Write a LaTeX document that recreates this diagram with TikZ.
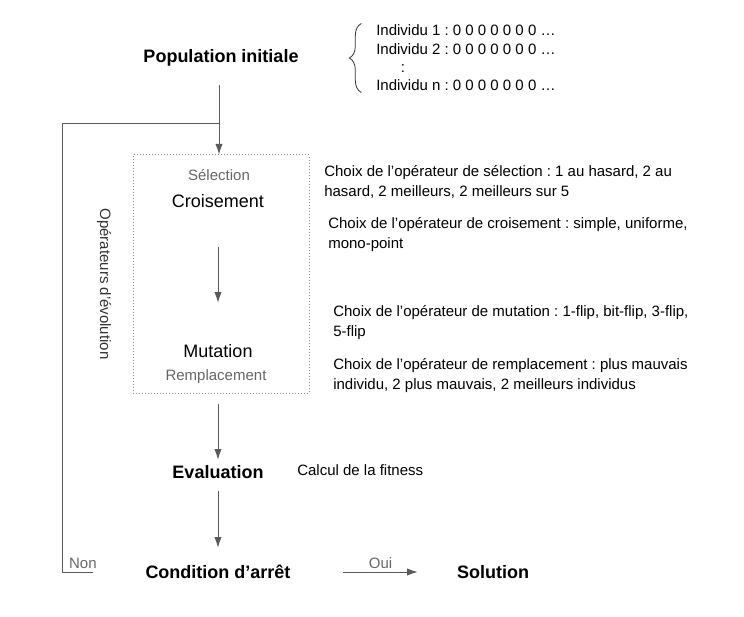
\documentclass[tikz,border=0pt]{standalone}
\usepackage{fontspec}
\setmainfont{Liberation Sans}
\usetikzlibrary{positioning, arrows.meta, decorations.pathreplacing}
\definecolor{edgegray}{HTML}{5A5A5A}
\definecolor{labelgray}{HTML}{666666}
\definecolor{boxgray}{HTML}{8C8C8C}
\definecolor{darktext}{HTML}{333333}
\frenchspacing

\begin{document}
\begin{tikzpicture}[x=0.75pt,y=-0.75pt,>={Latex[length=8pt,width=5.5pt]},font=\fontsize{11.25}{14.6}\selectfont]
    \tikzstyle{titre}=[font=\fontsize{13.5}{16}\selectfont\bfseries,inner sep=0pt,minimum height=18pt]
    \tikzstyle{oper}=[font=\fontsize{13.5}{16}\selectfont,inner sep=0pt,minimum height=18pt]
    \tikzstyle{gris}=[text=labelgray,inner sep=0pt]
    \tikzstyle{choix}=[anchor=west,align=left,inner sep=0pt]
    \tikzstyle{fleche}=[->,draw=edgegray,line width=0.75pt]

    \useasboundingbox (0,0) rectangle (744,617);

    \node[titre,minimum height=40.5pt] (pop) at (221,58) {Population initiale};
    \node[choix,font=\fontsize{11.25}{13.7}\selectfont] (indiv) at (376,58)
        {Individu 1 : 0 0 0 0 0 0 0 …\\Individu 2 : 0 0 0 0 0 0 0 …\\\hspace*{18.5pt}:\\Individu n : 0 0 0 0 0 0 0 …};
    \draw[darktext,line width=0.6pt,decorate,decoration={brace,amplitude=9pt}]
        ([xshift=-11pt,yshift=-1pt]indiv.south west) -- ([xshift=-11pt,yshift=1pt]indiv.north west);

    % operateurs d'evolution
    \node[draw=boxgray,line width=0.75pt,dash pattern=on 0.75pt off 1.5pt,minimum width=132pt,minimum height=178.5pt,inner sep=0pt] (ops) at (221,274) {};
    \node[gris] (sel) at (219,175) {Sélection};
    \node[oper] (crois) at (218,201) {Croisement};
    \node[oper] (mut) at (218,351) {Mutation};
    \node[gris] (rempl) at (216,377) {Remplacement};
    \node[rotate=-90,text=darktext,inner sep=0pt] (evol) at (104,284) {Opérateurs d’évolution};

    \node[titre] (eval) at (218,472) {Evaluation};
    \node[titre,minimum width=187.5pt] (cond) at (218,572) {Condition d’arrêt};
    \node[titre,minimum width=112.5pt] (sol) at (493,572) {Solution};

    % textes a droite
    \node[choix] (csel) at (324,182) {Choix de l’opérateur de sélection : 1 au hasard, 2 au\\hasard, 2 meilleurs, 2 meilleurs sur 5};
    \node[choix] (ccrois) at (328,234.5) {Choix de l’opérateur de croisement : simple, uniforme,\\mono-point};
    \node[choix] (cmut) at (333,322.5) {Choix de l’opérateur de mutation : 1-flip, bit-flip, 3-flip,\\5-flip};
    \node[choix] (crempl) at (333,375.5) {Choix de l’opérateur de remplacement : plus mauvais\\individu, 2 plus mauvais, 2 meilleurs individus};
    \node[choix] (fit) at (297,470) {Calcul de la fitness};

    \coordinate (retour) at (62,124);

    \draw[fleche] ([xshift=-1.5pt]pop.south) -- ([xshift=-1.5pt]pop.south |- ops.north);
    \draw[fleche,shorten <=25.5pt,shorten >=27pt] (crois) -- (mut);
    \draw[fleche,shorten <=7.5pt] (eval |- ops.south) -- (eval.north);
    \draw[fleche,shorten <=5.25pt,shorten >=9pt] (eval.south) -- (cond.north);
    \draw[fleche] (cond.east) -- node[gris,above=2pt] {Oui} (sol.west);
    \draw[edgegray,line width=0.75pt] (cond.west) -| node[gris,above=2pt,pos=0.16] {Non} (retour) -- ([xshift=-1.5pt]pop.south |- retour);
\end{tikzpicture}
\end{document}
